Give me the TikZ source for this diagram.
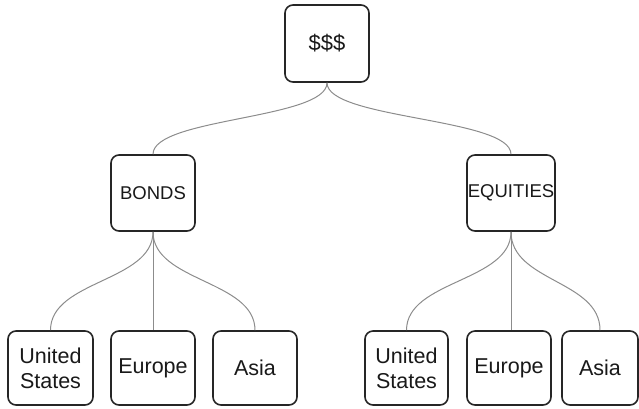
\documentclass[tikz,border=0pt]{standalone}
\usepackage{fontspec}
\setmainfont{Liberation Sans}
\begin{document}
\begin{tikzpicture}[x=1pt,y=-1pt,
  box/.style={draw=black!85, line width=1.6pt, rounded corners=8pt, fill=white,
    inner sep=0pt, align=center, text=black!90, minimum height=75pt, minimum width=84pt},
  leaf/.style={box, minimum height=74pt, font=\fontsize{21.5}{25}\selectfont},
  mid/.style={box, minimum height=76pt, font=\fontsize{18.5}{22}\selectfont},
  conn/.style={draw=black!45, line width=1pt}]
\useasboundingbox (0,0) rectangle (639,408);
\node[box, minimum height=77pt, font=\fontsize{22}{25}\selectfont] (top) at (327,43.5) {\$\$\$};
\node[mid] (bonds) at (153,193) {BONDS};
\node[mid, minimum width=88pt] (equities) at (511,193) {EQUITIES};
\node[leaf, minimum width=85pt] (us1) at (50.5,368) {United\\States};
\node[leaf] (eu1) at (153,368) {Europe};
\node[leaf] (as1) at (255,368) {Asia};
\node[leaf, minimum width=83pt] (us2) at (406.5,368) {United\\States};
\node[leaf] (eu2) at (509,368) {Europe};
\node[leaf, minimum width=76pt] (as2) at (600,368) {Asia};
\draw[conn] (top.south) .. controls +(0,36.5) and +(0,-36.5) .. (bonds.north);
\draw[conn] (top.south) .. controls +(0,36.5) and +(0,-36.5) .. (equities.north);
\draw[conn] (bonds.south) .. controls +(0,50) and +(0,-50) .. (us1.north);
\draw[conn] (bonds.south) -- (eu1.north);
\draw[conn] (bonds.south) .. controls +(0,50) and +(0,-50) .. (as1.north);
\draw[conn] (equities.south) .. controls +(0,50) and +(0,-50) .. (us2.north);
\draw[conn] (equities.south) -- (equities.south |- eu2.north);
\draw[conn] (equities.south) .. controls +(0,50) and +(0,-50) .. (as2.north);
\end{tikzpicture}
\end{document}
